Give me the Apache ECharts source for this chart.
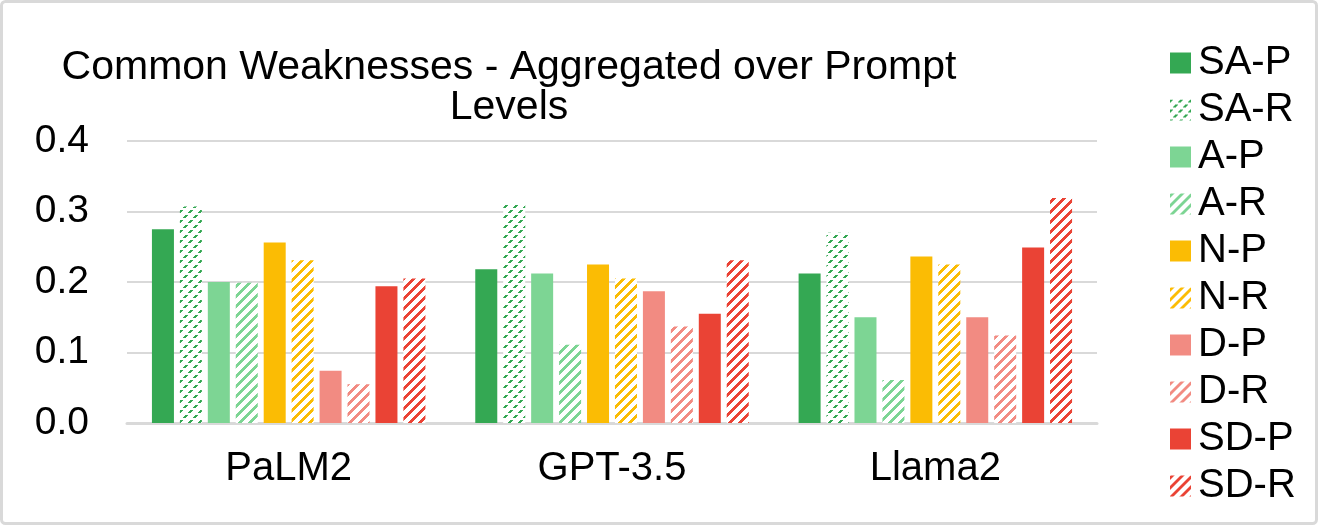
<!DOCTYPE html>
<html>
<head>
<meta charset="utf-8">
<script src="https://cdn.jsdelivr.net/npm/echarts@6/dist/echarts.min.js"></script>
<style>
html,body{margin:0;padding:0;background:#fff;}
#chart{width:1319px;height:526px;}
</style>
</head>
<body>
<div id="chart"></div>
<script>
const categories = ['PaLM2', 'GPT-3.5', 'Llama2'];
const seriesNames = ['SA-P', 'SA-R', 'A-P', 'A-R', 'N-P', 'N-R', 'D-P', 'D-R', 'SD-P', 'SD-R'];
const saP = [0.275, 0.218, 0.212];
const saR = [0.307, 0.312, 0.270];
const aP  = [0.200, 0.212, 0.150];
const aR  = [0.199, 0.111, 0.061];
const nP  = [0.256, 0.225, 0.236];
const nR  = [0.231, 0.205, 0.225];
const dP  = [0.074, 0.187, 0.150];
const dR  = [0.055, 0.137, 0.124];
const sdP = [0.194, 0.155, 0.249];
const sdR = [0.205, 0.231, 0.319];
const yTicks = [0, 0.1, 0.2, 0.3, 0.4];

const seriesValues = [saP, saR, aP, aR, nP, nR, dP, dR, sdP, sdR];
const seriesColors = ['#34a853', '#34a853', '#7dd594', '#7dd594', '#fbbc04', '#fbbc04', '#f28b82', '#f28b82', '#ea4335', '#ea4335'];
const hatched = [false, true, false, true, false, true, false, true, false, true];

function hexToRgb(h) {
  const n = parseInt(h.slice(1), 16);
  return [(n >> 16) & 255, (n >> 8) & 255, n & 255];
}
function makePattern(color, dashed) {
  const size = 10;
  const c = document.createElement('canvas');
  c.width = size; c.height = size;
  const ctx = c.getContext('2d');
  const img = ctx.createImageData(size, size);
  const rgb = hexToRgb(color);
  for (let y = 0; y < size; y++) {
    for (let x = 0; x < size; x++) {
      const d = (x + y) % size;
      let on;
      if (dashed) {
        on = d < 3 && (y % 5) < 3;
      } else {
        on = d < 4;
      }
      const i = (y * size + x) * 4;
      if (on) { img.data[i] = rgb[0]; img.data[i+1] = rgb[1]; img.data[i+2] = rgb[2]; }
      else { img.data[i] = 255; img.data[i+1] = 255; img.data[i+2] = 255; }
      img.data[i+3] = 255;
    }
  }
  ctx.putImageData(img, 0, 0);
  return c;
}

const FONT = '"Liberation Sans", Arial, sans-serif';
const chart = echarts.init(document.getElementById('chart'), null, {renderer: 'canvas'});

const series = seriesNames.map((name, i) => {
  const color = hatched[i]
    ? {image: makePattern(seriesColors[i], i === 1), repeat: 'repeat'}
    : seriesColors[i];
  return {
    name: name,
    type: 'bar',
    data: seriesValues[i],
    barWidth: 22,
    barGap: '27%',
    itemStyle: {color: color},
    emphasis: {disabled: true}
  };
});

chart.setOption({
  animation: false,
  backgroundColor: '#fff',
  title: {
    text: 'Common Weaknesses - Aggregated over Prompt\nLevels',
    left: 504,
    top: 43,
    textAlign: 'center',
    textStyle: {fontFamily: FONT, fontSize: 41, fontWeight: 'normal', color: '#000', lineHeight: 40}
  },
  legend: {
    orient: 'vertical',
    left: 1165,
    top: 38,
    itemWidth: 21,
    itemHeight: 21,
    itemGap: 7,
    icon: 'rect',
    data: seriesNames,
    textStyle: {fontFamily: FONT, fontSize: 40, color: '#000', lineHeight: 40, padding: [0, 0, 0, 2]},
    selectedMode: false
  },
  grid: {left: 127, right: 222, top: 141, bottom: 103, containLabel: false},
  xAxis: {
    type: 'category',
    data: categories,
    axisLine: {lineStyle: {color: '#d9d9d9', width: 3}},
    axisTick: {show: false},
    axisLabel: {fontFamily: FONT, fontSize: 40, color: '#000', margin: 26}
  },
  yAxis: {
    type: 'value',
    min: 0,
    max: 0.4,
    interval: 0.1,
    axisLine: {show: false},
    axisTick: {show: false},
    splitLine: {lineStyle: {color: '#d9d9d9', width: 2}},
    axisLabel: {
      fontFamily: FONT, fontSize: 39, color: '#000', margin: 38,
      formatter: v => yTicks.includes(Math.round(v * 10) / 10) ? v.toFixed(1) : ''
    }
  },
  graphic: [{
    type: 'rect',
    shape: {x: 1.5, y: 1.5, width: 1315, height: 522, r: 4},
    style: {fill: 'none', stroke: '#d9d9d9', lineWidth: 3},
    silent: true
  }],
  series: series
});
</script>
</body>
</html>
